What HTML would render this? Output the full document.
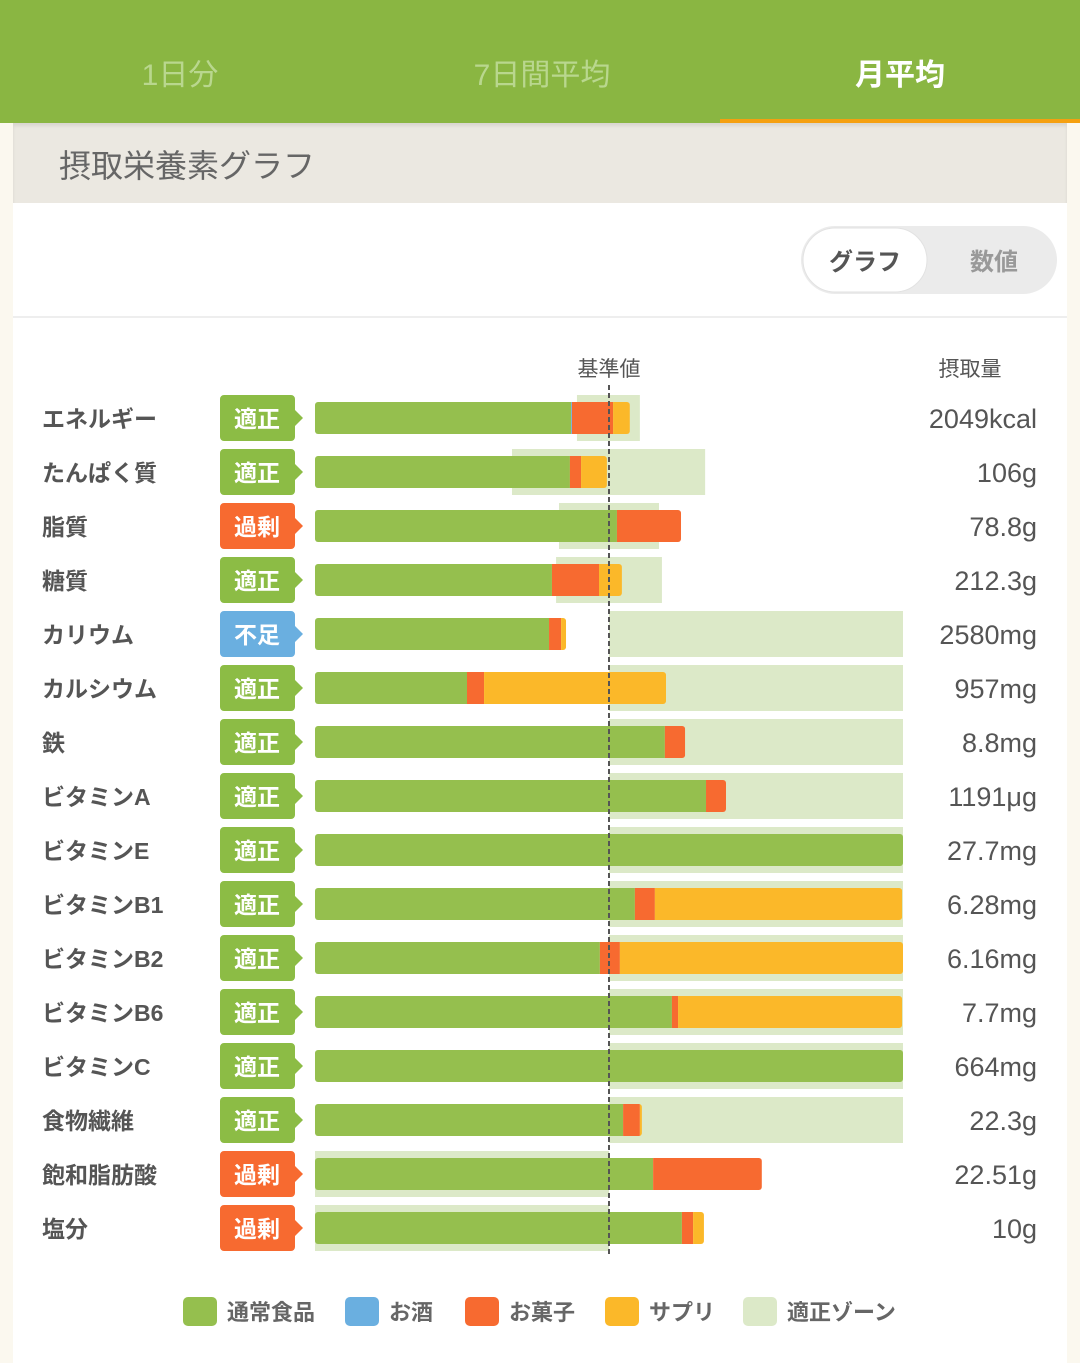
<!DOCTYPE html>
<html><head><meta charset="utf-8"><style>
body{margin:0;width:1080px;height:1363px;background:#fbf8ef;font-family:"Liberation Sans","Noto Sans CJK JP",sans-serif;overflow:hidden;position:relative}
.hdr{position:absolute;left:0;top:0;width:1080px;height:123px;background:#8ab642}
.tab{position:absolute;top:50px;font-size:30px;text-align:center;width:360px;color:#b9d78e}
.ul{position:absolute;left:720px;top:119px;width:360px;height:4px;background:#f5a010}
.sec{position:absolute;left:13px;top:123px;width:1054px;height:80px;background:#ebe8e1;box-shadow:0 3px 3px rgba(0,0,0,.08) inset}
.card{position:absolute;left:13px;top:203px;width:1054px;height:1160px;background:#fff}
svg text{font-family:"Liberation Sans","Noto Sans CJK JP",sans-serif}
</style></head><body>
<div class="hdr"></div>
<div class="tab" style="left:0">1日分</div>
<div class="tab" style="left:362px">7日間平均</div>
<div class="tab" style="left:720px;color:#fff;font-weight:bold">月平均</div>
<div class="ul"></div>
<div class="sec"><div style="position:absolute;left:46px;top:18px;font-size:32px;color:#666">摂取栄養素グラフ</div></div>
<div class="card"></div>
<svg id="c" width="1080" height="1363" style="position:absolute;left:0;top:0"></svg>
<script>
const names=["エネルギー","たんぱく質","脂質","糖質","カリウム","カルシウム","鉄","ビタミンA","ビタミンE","ビタミンB1","ビタミンB2","ビタミンB6","ビタミンC","食物繊維","飽和脂肪酸","塩分"];
const status=["適正","適正","過剰","適正","不足","適正","適正","適正","適正","適正","適正","適正","適正","適正","過剰","過剰"];
const amounts=["2049kcal","106g","78.8g","212.3g","2580mg","957mg","8.8mg","1191μg","27.7mg","6.28mg","6.16mg","7.7mg","664mg","22.3g","22.51g","10g"];
const food=[87.1,86.7,102.7,80.6,79.6,51.7,119,133,200,108.8,96.9,121.4,200,104.8,115,124.8];
const alcohol=[0.3,0,0,0,0,0,0,0,0,0,0,0,0,0,0,0];
const snack=[14,3.8,21.8,16,4.1,5.8,6.9,6.8,0,6.8,6.8,2.1,0,5.7,37,3.8];
const supp=[5.7,8.8,0,7.8,1.7,61.9,0,0,0,84.1,96.3,76.2,0,0.7,0,3.7];
const zoneLo=[89.1,67,83,82,100,100,100,100,100,100,100,100,100,100,0,0];
const zoneHi=[110.5,132.7,117,118,200,200,200,200,200,200,200,200,200,200,100,100];
const NS="http://www.w3.org/2000/svg",svg=document.getElementById('c');
const x0=315,ref=609,xs=v=>x0+Math.min(v,200)*(ref-x0)/100;
function mk(t,a,txt){const e=document.createElementNS(NS,t);for(const k in a)e.setAttribute(k,a[k]);if(txt!==undefined)e.textContent=txt;svg.appendChild(e);return e;}
// toggle
let e=mk('rect',{x:801,y:226,width:256,height:68,rx:34,fill:'#ebebeb'});


e=mk('rect',{x:803,y:228,width:124,height:64,rx:32,fill:'#fff',stroke:'#e2e2e2'});


mk('text',{x:865,y:270,'text-anchor':'middle','font-size':24,'font-weight':'bold',fill:'#555'},'グラフ');
e=mk('text',{x:994,y:270,'text-anchor':'middle','font-size':24,'font-weight':'bold',fill:'#999'},'数値');


mk('rect',{x:13,y:316,width:1054,height:2,fill:'#eeeeee'});
e=mk('text',{x:609,y:376,'text-anchor':'middle','font-size':21,fill:'#555'},'基準値');


e=mk('text',{x:970,y:376,'text-anchor':'middle','font-size':21,fill:'#555'},'摂取量');


const bc={"適正":"#8cbc45","過剰":"#f76a30","不足":"#6aafe0"};
names.forEach((n,i)=>{
 const cy=418+54*i;
 e=mk('text',{x:42,y:cy+9,'font-size':23,'font-weight':'bold',fill:'#555'},n);
 
 
 e=mk('path',{d:`M224 ${cy-23}h67a4 4 0 0 1 4 4v11l8 8l-8 8v11a4 4 0 0 1-4 4h-67a4 4 0 0 1-4-4v-38a4 4 0 0 1 4-4z`,fill:bc[status[i]]});
 
 
 mk('text',{x:257,y:cy+9,'text-anchor':'middle','font-size':23,'font-weight':'bold',fill:'#fff'},status[i]);
 e=mk('rect',{x:xs(zoneLo[i]),y:cy-23,width:xs(zoneHi[i])-xs(zoneLo[i]),height:46,fill:'#dce9c8'});
 
 
 let acc=0;const segs=[[food[i],'#95bf4e'],[alcohol[i],'#6aafe0'],[snack[i],'#f76a30'],[supp[i],'#fbb829']];
 const total=segs.reduce((s,a)=>s+a[0],0);
 const g=document.createElementNS(NS,'g');
 const cid='cl'+i;
 mk('clipPath',{id:cid}).appendChild(Object.assign(document.createElementNS(NS,'rect'),{}));
 const cp=svg.lastChild.firstChild;cp.setAttribute('x',x0);cp.setAttribute('y',cy-16);cp.setAttribute('width',xs(total)-x0);cp.setAttribute('height',32);cp.setAttribute('rx',3);
 segs.forEach(([v,c])=>{ if(v<=0)return;
  e=mk('rect',{x:xs(acc),y:cy-16,width:xs(acc+v)-xs(acc),height:32,fill:c,'clip-path':`url(#${cid})`});
  
  
  acc+=v;});
 e=mk('text',{x:1037,y:cy+10,'text-anchor':'end','font-size':27,fill:'#555'},amounts[i]);
 
 
});
e=mk('line',{x1:609,x2:609,y1:385,y2:1254,stroke:'#555','stroke-width':2,'stroke-dasharray':'5,3'});


const legend=[["通常食品","#95bf4e",183],["お酒","#6aafe0",345],["お菓子","#f76a30",465],["サプリ","#fbb829",605],["適正ゾーン","#dce9c8",743]];
legend.forEach(([t,c,x])=>{
 e=mk('rect',{x:x,y:1297,width:34,height:29,rx:5,fill:c});
 
 
 e=mk('text',{x:x+44,y:1320,'font-size':22,'font-weight':'bold',fill:'#666'},t);
 
 
});
</script>
</body></html>
